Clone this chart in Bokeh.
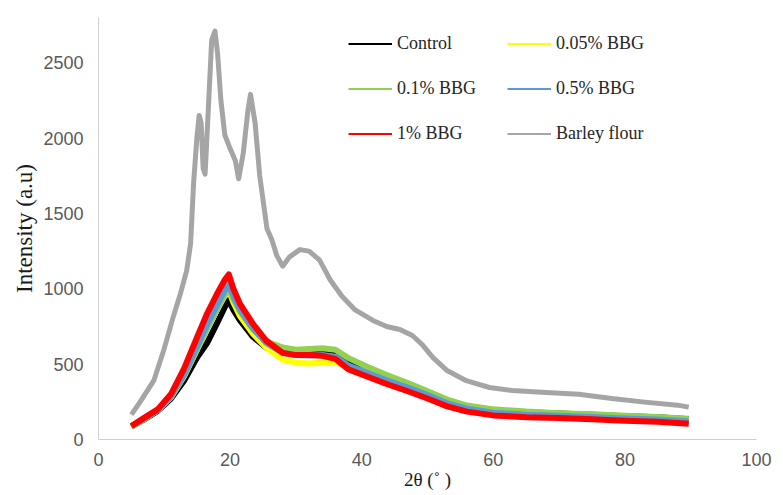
from bokeh.plotting import figure
from bokeh.models import Range1d, Legend, LegendItem, FixedTicker
from bokeh.embed import file_html
from bokeh.resources import INLINE

# ---- data ----
X_BBG = [5, 7, 9, 11, 13, 15, 16.5, 18, 19.2, 19.8, 20.5, 21.5, 23.5, 25.5, 28, 30, 32, 34, 36,
         38, 41, 44, 47, 50, 53, 56, 60, 65, 70, 75, 80, 85, 89.7]
CONTROL = [85, 135, 190, 270, 390, 545, 640, 770, 880, 925, 860, 790, 680, 610, 575, 565, 565, 570, 565,
           520, 470, 415, 370, 315, 260, 220, 195, 180, 172, 165, 155, 148, 135]
BBG_005 = [85, 138, 195, 280, 420, 600, 735, 860, 955, 990, 910, 820, 700, 610, 530, 510, 505, 510, 515,
           480, 445, 400, 355, 305, 250, 215, 190, 178, 170, 162, 152, 144, 130]
BBG_01 = [85, 138, 195, 280, 420, 600, 735, 860, 960, 1000, 930, 850, 730, 650, 610, 595, 600, 605, 595,
          540, 480, 425, 375, 320, 265, 225, 200, 185, 175, 168, 158, 150, 138]
BBG_05 = [88, 140, 195, 285, 430, 620, 760, 890, 990, 1030, 950, 860, 735, 640, 575, 560, 558, 560, 550,
          490, 440, 390, 345, 295, 240, 205, 178, 165, 158, 150, 140, 132, 120]
BBG_1 = [90, 145, 200, 300, 470, 680, 835, 965, 1060, 1095, 1000, 900, 765, 655, 575, 560, 560, 555, 535,
         465, 415, 365, 320, 272, 220, 185, 160, 148, 142, 135, 125, 118, 105]

X_BARLEY = [5, 6.4, 8.4, 9.9, 11.4, 12.4, 13.4, 14, 14.45, 14.95, 15.3, 15.6, 15.9, 16.2, 16.7, 17.2,
            17.7, 18.1, 18.6, 19.2, 20, 20.8, 21.3, 22, 22.7, 23.1, 23.8, 24.5, 25.6, 26.3, 27.1, 28,
            29, 30.6, 32, 33.6, 35.2, 37, 39, 41.7, 43.8, 45.8, 47.7, 49.2, 50.8, 52.9, 55.9, 59.4,
            62.9, 68, 73, 78, 83, 88, 89.7]
BARLEY = [165, 255, 390, 590, 820, 960, 1120, 1300, 1700, 2000, 2150, 2100, 1800, 1760, 2200, 2650,
          2710, 2560, 2250, 2020, 1930, 1850, 1730, 1900, 2180, 2290, 2100, 1750, 1400, 1330, 1220, 1150,
          1210, 1260, 1250, 1190, 1060, 950, 860, 790, 750, 730, 690, 630, 545, 460, 390, 345,
          325, 312, 300, 272, 248, 228, 215]

SERIES_NAMES = ["Control", "0.05% BBG", "0.1% BBG", "0.5% BBG", "1% BBG", "Barley flour"]
X_TICKS = [0, 20, 40, 60, 80, 100]
Y_TICKS = [0, 500, 1000, 1500, 2000, 2500]
X_TITLE = "2θ (˚ )"
Y_TITLE = "Intensity (a.u)"

COLORS = ["#000000", "#FFFF00", "#92D050", "#5B9BD5", "#FF0000", "#A5A5A5"]

p = figure(width=783, height=495, output_backend="svg", toolbar_location=None,
           x_range=Range1d(0, 100), y_range=Range1d(0, 2800),
           min_border_left=98, min_border_right=27, min_border_top=17, min_border_bottom=56)

p.outline_line_color = None
p.xgrid.visible = False
p.ygrid.visible = False

series = [(X_BBG, CONTROL), (X_BBG, BBG_005), (X_BBG, BBG_01), (X_BBG, BBG_05), (X_BBG, BBG_1),
          (X_BARLEY, BARLEY)]
widths = [6, 6, 6, 6, 6, 5]
items = []
for (xs, ys), name, col, w in zip(series, SERIES_NAMES, COLORS, widths):
    p.line(xs, ys, line_color=col, line_width=w, line_join="round")
    # off-range swatch renderer so the legend shows a thin line
    swatch = p.line([-20, -10], [-500, -500], line_color=col, line_width=2)
    items.append(LegendItem(label=name, renderers=[swatch]))

legend = Legend(items=items, location=(250, 293), orientation="horizontal", ncols=2,
                padding=0, margin=0, spacing=20, glyph_width=44, glyph_height=25,
                label_height=25, label_width=90, label_standoff=5,
                label_text_font="Liberation Serif", label_text_font_size="18px",
                label_text_color="#262626", border_line_color=None, background_fill_alpha=0)
p.add_layout(legend)

for ax in (p.xaxis[0], p.yaxis[0]):
    ax.axis_line_color = "#D0D0D0"
    ax.axis_line_width = 1
    ax.major_tick_line_color = None
    ax.minor_tick_line_color = None
    ax.major_tick_out = 0
    ax.major_tick_in = 0
    ax.major_label_text_font = "Liberation Sans"
    ax.major_label_text_font_size = "18px"
    ax.major_label_text_color = "#595959"
    ax.axis_label_text_font = "Liberation Serif"
    ax.axis_label_text_font_style = "normal"
    ax.axis_label_text_color = "#1a1a1a"

p.xaxis.ticker = FixedTicker(ticks=X_TICKS)
p.yaxis.ticker = FixedTicker(ticks=Y_TICKS)
p.xaxis.major_label_standoff = 13
p.yaxis.major_label_standoff = 15
p.yaxis.axis_label = Y_TITLE
p.yaxis.axis_label_text_font_size = "23px"
p.yaxis.axis_label_standoff = 3
p.xaxis.axis_label = X_TITLE
p.xaxis.axis_label_text_font_size = "19px"
p.xaxis.axis_label_standoff = 0

open("out.html", "w").write(file_html(p, INLINE))
